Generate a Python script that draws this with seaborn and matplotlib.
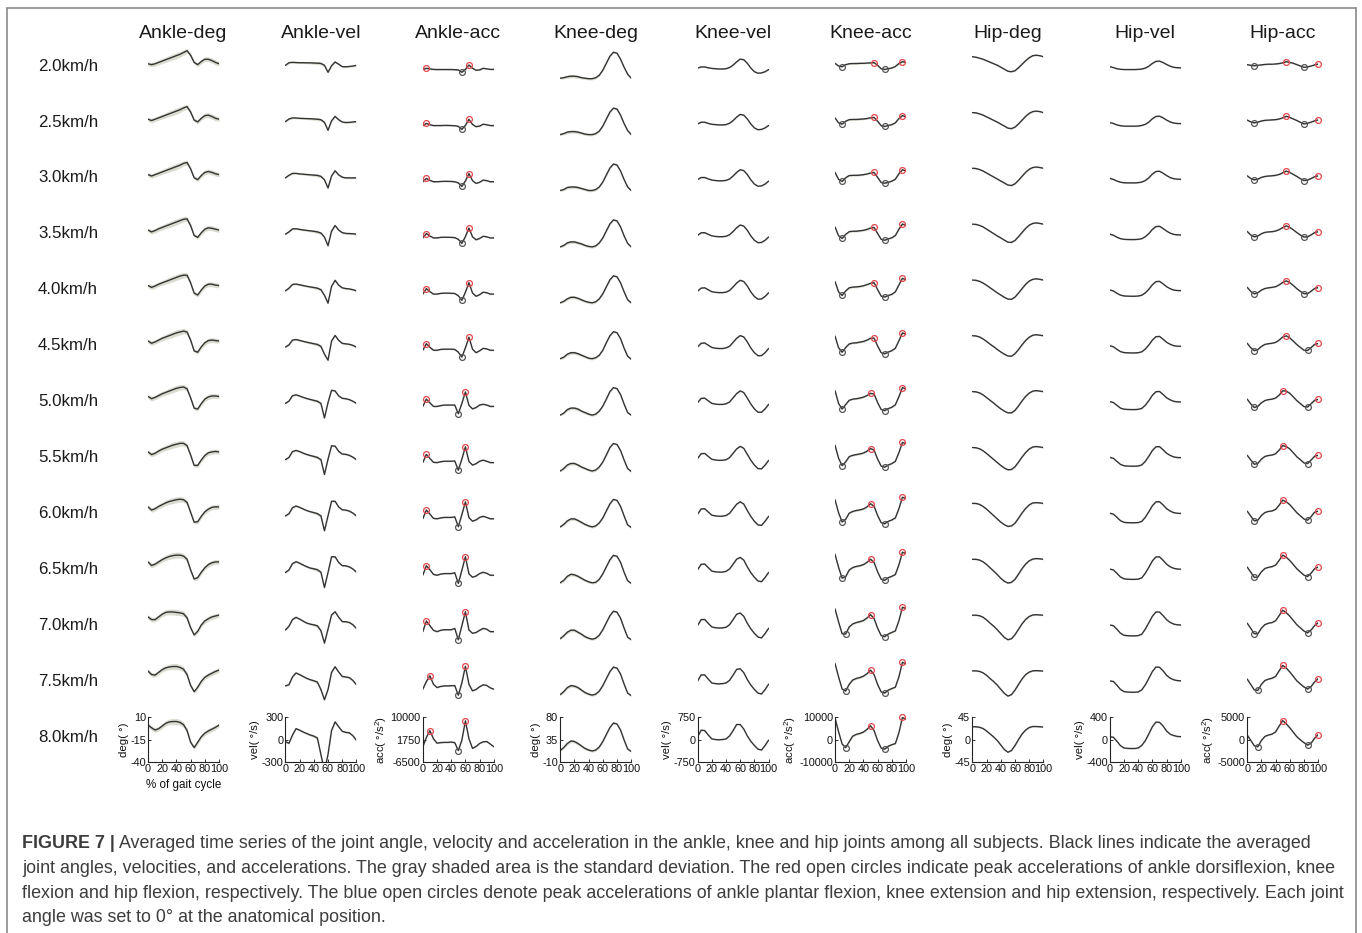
import matplotlib
matplotlib.use("Agg")
import matplotlib.pyplot as plt
from matplotlib.lines import Line2D
import numpy as np
import pandas as pd
import seaborn as sns

# ---------------------------------------------------------------- data
GAIT_PCT = list(range(0, 101, 5))
SPEEDS = ["2.0km/h", "2.5km/h", "3.0km/h", "3.5km/h", "4.0km/h", "4.5km/h", "5.0km/h",
          "5.5km/h", "6.0km/h", "6.5km/h", "7.0km/h", "7.5km/h", "8.0km/h"]
COLUMN_TITLES = ["Ankle-deg", "Ankle-vel", "Ankle-acc", "Knee-deg", "Knee-vel",
                 "Knee-acc", "Hip-deg", "Hip-vel", "Hip-acc"]
Y_LABELS = ["deg( °)", "vel( °/s)", "acc( °/s$^{2}$)"] * 3
Y_LIMITS = [(-40, 10), (-300, 300), (-6500, 10000), (-10, 80), (-750, 750),
            (-10000, 10000), (-45, 45), (-400, 400), (-5000, 5000)]
Y_TICKS = [[-40, -15, 10], [-300, 0, 300], [-6500, 1750, 10000], [-10, 35, 80],
           [-750, 0, 750], [-10000, 0, 10000], [-45, 0, 45], [-400, 0, 400],
           [-5000, 0, 5000]]
X_TICKS = [0, 20, 40, 60, 80, 100]

ANKLE_DEG = [
    [-9.5, -10.5, -9.5, -8.0, -6.5, -5.0, -3.5, -2.0, -0.5, 1.0, 3.0, 5.0, 0.0, -8.0, -10.5, -7.0, -4.5, -4.5, -6.0, -8.0, -9.5],
    [-9.0, -10.5, -9.0, -7.5, -6.0, -4.5, -3.0, -1.5, 0.0, 1.5, 3.5, 5.0, -1.0, -10.0, -12.0, -8.0, -5.0, -4.5, -6.0, -8.0, -9.0],
    [-8.5, -10.0, -8.5, -7.0, -5.5, -4.0, -2.5, -1.0, 0.5, 2.0, 4.0, 5.0, -2.0, -12.0, -14.0, -9.5, -6.0, -5.0, -6.0, -7.5, -8.5],
    [-8.0, -10.0, -8.5, -6.5, -5.0, -3.5, -2.0, -0.5, 1.0, 2.5, 4.0, 4.5, -3.0, -14.0, -16.0, -11.0, -7.0, -5.5, -6.0, -7.0, -8.0],
    [-7.5, -9.5, -8.0, -6.0, -4.5, -3.0, -1.5, 0.0, 1.5, 3.0, 4.0, 4.0, -4.5, -16.0, -18.0, -12.5, -8.0, -6.0, -6.0, -7.0, -7.5],
    [-7.0, -9.5, -8.0, -6.0, -4.0, -2.5, -1.0, 0.5, 2.0, 3.0, 4.0, 3.0, -6.0, -18.0, -19.5, -13.5, -9.0, -6.5, -6.0, -6.5, -7.0],
    [-6.5, -9.0, -7.5, -5.5, -3.5, -2.0, -0.5, 1.0, 2.5, 3.5, 4.0, 2.0, -8.0, -19.5, -20.5, -14.5, -9.5, -7.0, -6.0, -6.0, -6.5],
    [-6.0, -9.0, -7.5, -5.0, -3.0, -1.5, 0.0, 1.5, 2.5, 3.5, 3.5, 1.0, -9.5, -21.0, -21.0, -15.0, -10.0, -7.0, -6.0, -5.5, -6.0],
    [-5.0, -8.5, -7.0, -4.5, -2.5, -0.5, 1.0, 2.0, 3.0, 3.5, 3.0, 0.0, -11.0, -22.0, -21.5, -15.5, -10.5, -7.5, -5.5, -5.0, -5.0],
    [-4.0, -8.0, -6.5, -4.0, -1.5, 0.5, 2.0, 3.0, 3.5, 3.5, 2.5, -1.0, -13.0, -23.0, -21.5, -15.5, -10.5, -7.0, -5.0, -4.0, -4.0],
    [-3.0, -6.0, -6.0, -3.0, 0.0, 2.0, 2.5, 2.5, 2.0, 1.5, 0.5, -4.0, -15.0, -23.0, -19.0, -12.0, -7.5, -5.0, -3.0, -2.0, -1.0],
    [-1.0, -5.0, -5.5, -2.5, 0.5, 2.5, 3.5, 4.0, 4.0, 3.0, 1.0, -5.0, -17.0, -24.0, -19.0, -12.5, -8.0, -5.5, -3.5, -1.5, 0.0],
    [1.0, -2.0, -4.5, -3.0, 0.0, 3.0, 4.5, 5.0, 5.0, 4.0, 1.5, -5.0, -18.0, -24.0, -18.0, -12.0, -8.0, -5.5, -3.5, -1.5, 1.0],
]
ANKLE_VEL = [
    [45, 80, 85, 82, 80, 80, 78, 78, 76, 74, 70, 45, -48, 40, 90, 60, 28, 25, 30, 35, 45],
    [40, 75, 90, 88, 84, 82, 80, 78, 75, 72, 65, 30, -75, 50, 110, 65, 35, 28, 30, 35, 40],
    [35, 70, 95, 95, 88, 84, 80, 76, 72, 68, 55, 10, -100, 60, 130, 75, 45, 35, 35, 35, 35],
    [30, 60, 100, 102, 94, 86, 80, 74, 68, 60, 45, -10, -125, 70, 145, 85, 50, 40, 38, 35, 30],
    [20, 55, 105, 110, 100, 90, 80, 72, 64, 55, 35, -40, -145, 80, 160, 95, 60, 50, 45, 35, 20],
    [15, 45, 108, 116, 104, 92, 80, 70, 60, 50, 25, -80, -160, 95, 170, 105, 65, 58, 52, 38, 15],
    [10, 40, 112, 124, 108, 90, 75, 62, 50, 38, 10, -185, 20, 185, 175, 110, 78, 72, 60, 38, 10],
    [5, 35, 112, 128, 112, 92, 74, 60, 48, 34, 5, -192, 10, 190, 185, 115, 80, 76, 62, 38, 5],
    [0, 30, 110, 132, 114, 92, 72, 56, 44, 30, 0, -198, 0, 195, 195, 120, 82, 78, 64, 38, 0],
    [-10, 25, 110, 135, 115, 90, 68, 50, 40, 28, -5, -210, -10, 200, 200, 125, 82, 80, 66, 38, -5],
    [-30, 20, 110, 138, 115, 88, 62, 48, 38, 25, -40, -205, -20, 170, 213, 140, 82, 80, 70, 40, -10],
    [-30, -15, 90, 142, 120, 95, 70, 52, 38, 20, -80, -215, -80, 150, 225, 155, 95, 88, 80, 42, -15],
    [-30, -50, 60, 145, 125, 100, 80, 60, 45, 20, -200, -420, -200, 120, 235, 170, 110, 95, 90, 50, -10],
]
ANKLE_ACC = [
    [1500, 1900, 1700, 1500, 1450, 1450, 1450, 1450, 1450, 1400, 1300, 450, 1500, 3100, 1900, 1200, 1300, 1900, 1700, 1500, 1500],
    [1400, 2200, 1700, 1400, 1400, 1400, 1450, 1450, 1400, 1350, 1100, 0, 1500, 3700, 1800, 1000, 1200, 1900, 1700, 1400, 1400],
    [1300, 2500, 1800, 1300, 1300, 1400, 1450, 1450, 1400, 1300, 900, -400, 1600, 4300, 1700, 700, 1100, 1900, 1700, 1300, 1300],
    [1200, 2800, 1900, 1200, 1200, 1400, 1450, 1450, 1400, 1300, 700, -800, 1700, 4800, 1600, 500, 1000, 1800, 1600, 1200, 1200],
    [1100, 3100, 2000, 1100, 1100, 1350, 1450, 1450, 1400, 1300, 500, -1200, 1800, 5300, 1500, 300, 900, 1800, 1600, 1100, 1100],
    [1000, 3400, 2100, 1000, 1000, 1300, 1400, 1400, 1400, 1300, 300, -1500, 1900, 5800, 1400, 100, 800, 1700, 1500, 1000, 1000],
    [900, 3600, 2200, 900, 900, 1200, 1400, 1400, 1400, 1400, -1800, 2000, 6200, 1300, 0, 500, 1400, 1700, 1400, 900, 900],
    [800, 3800, 2300, 900, 800, 1100, 1300, 1300, 1300, 1400, -2000, 2100, 6600, 1200, -100, 400, 1300, 1700, 1300, 800, 800],
    [700, 3900, 2400, 850, 700, 1000, 1200, 1200, 1200, 1400, -2200, 2200, 6900, 1100, -200, 300, 1200, 1600, 1200, 700, 700],
    [500, 4000, 2500, 800, 500, 900, 1100, 1100, 1100, 1400, -2500, 2300, 7300, 1000, -250, 200, 1100, 1600, 1200, 500, 500],
    [300, 4200, 2500, 800, 300, 800, 1000, 1000, 1000, 1500, -2700, 2500, 7600, 900, -300, 0, 800, 1500, 1200, 300, 300],
    [-300, 2500, 4600, 1500, 300, 700, 900, 900, 1000, 1000, -2500, 2000, 8100, 1500, -900, -400, 600, 1300, 1100, 200, -300],
    [-900, 2500, 5000, 2000, 400, 600, 700, 700, 800, 600, -2300, 1500, 8600, 2000, -1500, -800, 300, 900, 1000, 100, -900],
]
KNEE_DEG = [
    [16, 17, 19, 20, 20, 19, 17, 16, 15, 15, 17, 22, 32, 46, 60, 68, 66, 54, 38, 24, 16],
    [15, 17, 20, 21, 21, 20, 18, 16, 15, 15, 17, 22, 32, 46, 60, 68, 66, 54, 37, 23, 15],
    [15, 17, 21, 22, 22, 21, 19, 17, 15, 15, 17, 22, 32, 46, 60, 68, 66, 54, 37, 22, 15],
    [14, 17, 22, 24, 24, 22, 20, 17, 15, 14, 16, 22, 32, 46, 60, 68, 66, 54, 36, 21, 14],
    [14, 17, 22, 25, 25, 23, 20, 17, 15, 14, 16, 22, 32, 46, 60, 68, 66, 54, 36, 20, 14],
    [14, 17, 23, 26, 26, 24, 21, 18, 15, 14, 16, 21, 31, 46, 60, 68, 66, 54, 35, 19, 13],
    [13, 17, 24, 27, 27, 25, 21, 18, 15, 13, 15, 21, 31, 45, 60, 68, 66, 54, 35, 18, 13],
    [13, 18, 25, 28, 28, 25, 21, 18, 15, 13, 15, 21, 31, 45, 60, 68, 66, 54, 35, 18, 12],
    [13, 18, 25, 29, 29, 26, 22, 18, 15, 13, 15, 21, 31, 45, 59, 68, 66, 54, 35, 17, 12],
    [13, 18, 26, 30, 29, 26, 22, 18, 15, 13, 14, 20, 31, 45, 59, 68, 66, 54, 34, 17, 12],
    [13, 19, 26, 30, 30, 26, 22, 17, 14, 12, 14, 20, 31, 45, 59, 68, 66, 54, 34, 16, 11],
    [13, 19, 27, 31, 30, 27, 22, 17, 14, 12, 14, 20, 31, 45, 59, 68, 66, 54, 34, 16, 11],
    [13, 19, 27, 32, 31, 27, 22, 17, 14, 12, 14, 20, 31, 45, 59, 68, 66, 54, 34, 16, 11],
]
KNEE_VEL = [
    [20, 60, 60, 30, 10, 0, -10, -10, 0, 40, 120, 230, 320, 300, 180, 20, -100, -150, -140, -100, -30],
    [25, 80, 80, 40, 10, 0, -10, -10, 0, 45, 135, 250, 340, 315, 190, 20, -110, -170, -160, -110, -30],
    [30, 100, 100, 55, 15, 0, -10, -10, 5, 50, 150, 270, 360, 330, 200, 20, -120, -190, -180, -120, -20],
    [35, 120, 125, 70, 20, 0, -10, -10, 5, 55, 165, 290, 380, 345, 205, 15, -130, -210, -200, -130, -20],
    [40, 140, 150, 85, 20, 0, -10, -10, 5, 60, 180, 310, 400, 360, 210, 10, -140, -230, -220, -140, -15],
    [45, 165, 175, 100, 25, 0, -10, -10, 10, 65, 195, 330, 420, 375, 210, 5, -150, -250, -245, -150, -10],
    [50, 190, 200, 110, 25, 0, -10, -10, 10, 70, 210, 350, 440, 385, 200, 0, -160, -270, -270, -160, -10],
    [55, 210, 220, 120, 25, 0, -10, -10, 10, 80, 225, 370, 455, 390, 190, -10, -170, -285, -295, -170, -15],
    [60, 230, 240, 130, 25, 0, -10, -10, 15, 85, 240, 390, 470, 395, 180, -20, -180, -300, -315, -180, -15],
    [70, 250, 260, 140, 25, 0, -10, -10, 15, 95, 255, 420, 480, 390, 165, -30, -185, -305, -330, -190, -20],
    [75, 270, 275, 145, 25, 0, -10, -5, 15, 100, 270, 450, 490, 380, 150, -40, -190, -310, -340, -195, -20],
    [85, 290, 290, 150, 20, 0, -10, 0, 20, 110, 285, 475, 495, 365, 135, -50, -195, -315, -345, -200, -20],
    [90, 310, 300, 150, 20, 0, -10, 0, 20, 120, 300, 500, 500, 350, 120, -60, -200, -320, -350, -200, -20],
]
KNEE_ACC = [
    [2400, 1200, 900, 1800, 2200, 2300, 2300, 2400, 2400, 2500, 2600, 2700, 1500, 0, -300, 0, 300, 1000, 2300, 3100, 2800],
    [3000, 800, 200, 1500, 2200, 2300, 2300, 2400, 2500, 2700, 3000, 3200, 1500, -500, -800, -400, 0, 800, 2700, 4000, 3500],
    [3600, 500, -400, 1200, 2200, 2300, 2300, 2400, 2600, 2900, 3300, 3600, 1400, -900, -1200, -800, -300, 600, 3000, 4800, 4200],
    [4200, 300, -900, 900, 2100, 2300, 2300, 2500, 2700, 3100, 3700, 4000, 1300, -1300, -1700, -1100, -600, 400, 3200, 5500, 4900],
    [4800, 200, -1400, 600, 2000, 2300, 2400, 2600, 2900, 3400, 4000, 4300, 1200, -1700, -2100, -1400, -900, 200, 3300, 6200, 5600],
    [5400, 200, -1800, 300, 1900, 2300, 2400, 2700, 3000, 3600, 4400, 4500, 1000, -2000, -2500, -1700, -1100, 0, 3300, 6800, 6200],
    [6000, 300, -2200, -200, 1700, 2200, 2400, 2700, 3100, 3800, 4800, 4500, 700, -2400, -2900, -2000, -1400, -300, 3300, 7300, 6800],
    [6600, 800, -2500, -800, 1500, 2100, 2400, 2700, 3100, 3900, 5100, 4400, 400, -2700, -3200, -2200, -1600, -600, 3300, 7800, 7300],
    [7200, 1400, -2700, -1500, 1200, 2000, 2400, 2700, 3100, 4000, 5400, 4300, 200, -3000, -3500, -2400, -1800, -900, 3200, 8300, 7800],
    [7800, 2000, -2800, -2200, 800, 1900, 2400, 2700, 3200, 4200, 5600, 4200, 0, -3300, -3800, -2600, -2000, -1200, 3100, 8700, 8200],
    [8400, 2600, -2700, -2800, 300, 1700, 2300, 2700, 3200, 4300, 5800, 4100, -200, -3500, -4000, -2800, -2100, -1400, 3100, 9100, 8500],
    [9000, 3000, -2400, -3300, -300, 1600, 2300, 2700, 3300, 4400, 6000, 4000, -400, -3700, -4200, -2900, -2200, -1600, 3000, 9500, 8800],
    [9500, 3500, -2000, -3600, -1000, 1500, 2300, 2700, 3300, 4500, 6100, 4000, -500, -3800, -4300, -3000, -2300, -1800, 3000, 9800, 9000],
]
HIP_DEG = [
    [24, 23, 21, 19, 16, 13, 10, 7, 3, -1, -5, -6, -4, 2, 9, 16, 22, 26, 27, 26, 24],
    [24, 23.5, 21.5, 19, 15.5, 12, 8.5, 5, 1, -3, -7, -8, -5, 1.5, 9, 16.5, 22.5, 26, 27, 26, 24],
    [24.5, 24, 22, 19, 15, 11, 7, 3, -1, -5, -9, -10, -6.5, 0.5, 8.5, 16.5, 22.5, 26, 27, 26, 24.5],
    [24.5, 24, 22, 19, 14.5, 10, 5.5, 1, -3, -7.5, -11.5, -12, -8, -0.5, 8, 16, 22.5, 26, 27, 26, 24.5],
    [24.5, 24, 22, 18.5, 14, 9, 4, -1, -5.5, -10, -13.5, -14, -9.5, -1.5, 7.5, 16, 22.5, 26, 27, 26, 24.5],
    [25, 24.5, 22.5, 18.5, 13.5, 8, 3, -2.5, -7.5, -12, -15.5, -16, -11, -2.5, 7, 15.5, 22, 26, 27, 26, 25],
    [25, 24.5, 22.5, 18.5, 13, 7.5, 2, -4, -9.5, -14, -17.5, -17.5, -12.5, -3.5, 6.5, 15.5, 22, 26, 27, 26, 25],
    [25, 24.5, 22.5, 18.5, 13, 7, 1, -5, -11, -16, -19.5, -19, -13.5, -4, 6, 15, 22, 26, 27, 26, 25],
    [25, 25, 23, 19, 13.5, 7, 0.5, -6, -12.5, -17.5, -21, -20, -14.5, -4.5, 6, 15, 22, 26, 26.5, 26, 25],
    [25, 25, 23.5, 20, 14.5, 8, 1.5, -5.5, -13, -19, -22.5, -21, -15, -4.5, 6.5, 15.5, 22, 25.5, 26.5, 26, 25],
    [25, 25, 24, 21, 15.5, 9, 3, -4, -12, -19.5, -24, -22, -14, -3, 8, 16.5, 22.5, 25.5, 26, 25.5, 25],
    [25.5, 25.5, 24.5, 21.5, 16.5, 10, 4, -3, -11.5, -19.5, -25, -22, -13, -1.5, 9.5, 18, 23, 25.5, 26, 25.5, 25],
    [25.5, 25.5, 24.5, 22, 17, 11, 5, -2, -11, -20, -25.5, -22, -12, 0, 11, 19, 24, 26, 26, 25.5, 25],
]
HIP_VEL = [
    [35, 20, 0, -10, -15, -15, -15, -15, -12, -5, 10, 45, 95, 130, 135, 110, 75, 45, 25, 18, 15],
    [35, 20, -5, -20, -27, -28, -28, -28, -25, -15, 5, 45, 105, 145, 150, 120, 80, 48, 28, 20, 18],
    [38, 20, -10, -30, -40, -42, -42, -42, -38, -28, 0, 48, 115, 160, 165, 130, 88, 52, 32, 24, 22],
    [40, 22, -15, -40, -52, -55, -56, -56, -52, -40, -5, 50, 125, 175, 180, 140, 95, 58, 36, 28, 26],
    [42, 24, -18, -50, -65, -68, -70, -70, -66, -52, -10, 55, 135, 190, 195, 150, 100, 64, 40, 32, 30],
    [44, 26, -20, -60, -78, -82, -84, -84, -80, -64, -15, 58, 145, 205, 210, 160, 105, 70, 45, 36, 34],
    [45, 28, -22, -70, -90, -95, -97, -97, -93, -76, -20, 62, 158, 220, 225, 172, 112, 76, 50, 40, 38],
    [46, 30, -24, -78, -102, -108, -110, -110, -106, -88, -24, 68, 170, 235, 238, 182, 120, 82, 55, 44, 42],
    [47, 32, -25, -85, -114, -120, -122, -122, -118, -98, -25, 75, 182, 250, 252, 195, 128, 86, 58, 47, 44],
    [48, 34, -26, -92, -124, -132, -134, -134, -130, -108, -25, 82, 195, 265, 265, 205, 135, 90, 62, 50, 46],
    [48, 36, -27, -98, -134, -142, -145, -145, -140, -116, -24, 88, 205, 280, 278, 215, 142, 94, 65, 52, 48],
    [49, 38, -28, -104, -142, -150, -153, -153, -148, -112, -22, 94, 216, 295, 290, 228, 147, 97, 68, 54, 49],
    [50, 40, -30, -110, -150, -158, -160, -160, -150, -105, -20, 100, 228, 310, 305, 240, 150, 95, 70, 55, 50],
]
HIP_ACC = [
    [900, 750, 670, 750, 850, 950, 1000, 1000, 1050, 1150, 1300, 1560, 1400, 1200, 900, 600, 310, 400, 600, 850, 1040],
    [1000, 600, 400, 550, 800, 950, 1000, 1050, 1100, 1250, 1500, 1850, 1600, 1250, 900, 500, 150, 300, 550, 850, 1050],
    [1050, 450, 150, 300, 700, 900, 1000, 1050, 1150, 1350, 1700, 2100, 1800, 1350, 900, 400, 0, 100, 450, 850, 1050],
    [1100, 300, -100, 100, 600, 900, 1000, 1050, 1200, 1500, 1950, 2350, 2000, 1450, 850, 300, -150, -100, 350, 850, 1050],
    [1100, 200, -350, -100, 500, 850, 1000, 1100, 1250, 1650, 2200, 2550, 2150, 1500, 800, 200, -300, -300, 250, 850, 1050],
    [1100, 100, -550, -300, 400, 850, 1000, 1100, 1300, 1800, 2500, 2750, 2300, 1550, 800, 150, -450, -500, 150, 850, 1050],
    [1100, 50, -750, -500, 300, 800, 1000, 1100, 1350, 2000, 2950, 2900, 2400, 1600, 750, 100, -550, -650, 100, 850, 1050],
    [1050, 0, -950, -750, 200, 800, 1000, 1100, 1400, 2200, 3200, 3000, 2450, 1600, 700, 50, -650, -800, 0, 850, 1050],
    [1050, -50, -1100, -950, 100, 750, 1000, 1100, 1450, 2400, 3500, 3150, 2500, 1600, 700, 0, -700, -950, -150, 850, 1050],
    [1050, -100, -1250, -1150, 0, 750, 1000, 1150, 1500, 2550, 3700, 3250, 2500, 1600, 650, -50, -750, -1050, -300, 700, 1050],
    [1000, -150, -1350, -1350, -100, 700, 1000, 1150, 1550, 2700, 3900, 3350, 2550, 1600, 650, -50, -750, -1150, -500, 500, 1100],
    [1000, -200, -1400, -1500, -150, 700, 1000, 1200, 1600, 2850, 4050, 3450, 2600, 1600, 600, -100, -750, -1200, -650, 400, 1100],
    [1000, -200, -1400, -1600, -200, 700, 1000, 1200, 1700, 3000, 4200, 3500, 2600, 1600, 600, -100, -700, -1250, -800, 300, 1100],
]

# standard deviation across subjects (one profile per variable)
ANKLE_DEG_SD = [2.5, 2.5, 2.5, 2.6, 2.8, 3.0, 3.2, 3.4, 3.4, 3.2, 3.0, 2.6, 2.2, 2.0, 2.2, 2.4, 2.6, 2.8, 2.8, 2.7, 2.5]
ANKLE_VEL_SD = [12, 12, 12, 12, 12, 12, 12, 14, 18, 22, 18, 14, 12, 12, 12, 12, 12, 12, 12, 12, 12]
ANKLE_ACC_SD = [250, 300, 300, 250, 200, 200, 200, 200, 200, 250, 300, 300, 300, 250, 200, 200, 200, 200, 200, 200, 250]
KNEE_DEG_SD = [2.0, 2.5, 3.0, 3.2, 3.2, 3.0, 2.8, 2.6, 2.5, 2.5, 2.4, 2.2, 2.0, 1.8, 1.8, 1.8, 1.8, 1.8, 1.8, 1.8, 2.0]
KNEE_VEL_SD = [15, 18, 20, 18, 15, 15, 15, 15, 15, 15, 15, 15, 15, 15, 15, 15, 15, 15, 15, 15, 15]
KNEE_ACC_SD = [300, 300, 300, 300, 300, 350, 400, 400, 350, 300, 300, 300, 300, 300, 300, 300, 300, 300, 300, 300, 300]
HIP_DEG_SD = [1.2] * 21
HIP_VEL_SD = [8] * 21
HIP_ACC_SD = [120] * 21

COLUMNS = [ANKLE_DEG, ANKLE_VEL, ANKLE_ACC, KNEE_DEG, KNEE_VEL, KNEE_ACC, HIP_DEG, HIP_VEL, HIP_ACC]
COLUMN_SD = [ANKLE_DEG_SD, ANKLE_VEL_SD, ANKLE_ACC_SD, KNEE_DEG_SD, KNEE_VEL_SD,
             KNEE_ACC_SD, HIP_DEG_SD, HIP_VEL_SD, HIP_ACC_SD]

# peak-acceleration search windows (% gait cycle): "flex" = maximum, "ext" = minimum
PEAK_WINDOWS = {
    2: [("flex", 0, 25), ("ext", 40, 60), ("flex", 55, 75)],
    5: [("ext", 0, 30), ("flex", 35, 65), ("ext", 60, 85), ("flex", 85, 100)],
    8: [("ext", 0, 30), ("flex", 35, 65), ("ext", 70, 95), ("flex", 90, 100)],
}

# ---------------------------------------------------------------- style
sns.set_theme(style="white")
plt.rcParams["font.family"] = ["Liberation Sans", "DejaVu Sans"]
plt.rcParams["mathtext.fontset"] = "custom"
plt.rcParams["mathtext.rm"] = "Liberation Sans"
plt.rcParams["axes.unicode_minus"] = False

LINE_COLOR = "#333333"
BAND_COLOR = "#d6dacb"
FLEX_COLOR = "#e5454d"
EXT_COLOR = "#555555"
TEXT_COLOR = "#1a1a1a"

W, H = 1362, 933
fig = plt.figure(figsize=(W / 100, H / 100), dpi=100)
fig.patch.set_facecolor("white")


def rect(left, top, width, height):
    return [left / W, 1 - (top + height) / H, width / W, height / H]


COL_LEFT0, COL_STEP, AX_W = 148, 137.4, 71
ROW_TOP_LAST, ROW_STEP, AX_H = 717, 55.9, 45
n_rows = len(SPEEDS)
x = np.array(GAIT_PCT, dtype=float)

for r, speed in enumerate(SPEEDS):
    top = ROW_TOP_LAST - (n_rows - 1 - r) * ROW_STEP
    fig.text(38 / W, 1 - (top + AX_H / 2 - 2.5) / H, speed, fontsize=12.2,
             color=TEXT_COLOR, ha="left", va="center")
    for c, series in enumerate(COLUMNS):
        left = COL_LEFT0 + c * COL_STEP
        ax = fig.add_axes(rect(left, top, AX_W, AX_H))
        y = np.array(series[r], dtype=float)
        sd = np.array(COLUMN_SD[c], dtype=float)
        ax.fill_between(x, y - sd, y + sd, color=BAND_COLOR, linewidth=0, alpha=0.9)
        frame = pd.DataFrame({"pct": x, "value": y})
        sns.lineplot(data=frame, x="pct", y="value", ax=ax, color=LINE_COLOR,
                     linewidth=1.0, estimator=None)
        if c in PEAK_WINDOWS:
            for kind, lo, hi in PEAK_WINDOWS[c]:
                idx = [i for i, p in enumerate(GAIT_PCT) if lo <= p <= hi]
                vals = y[idx]
                k = idx[int(np.argmax(vals))] if kind == "flex" else idx[int(np.argmin(vals))]
                ax.plot(x[k], y[k], "o", ms=4.2, mfc="none", mew=0.9,
                        mec=FLEX_COLOR if kind == "flex" else EXT_COLOR, zorder=5,
                        clip_on=False)
        ax.set_xlim(0, 100)
        ax.set_ylim(*Y_LIMITS[c])
        ax.set_xlabel("")
        ax.set_ylabel("")
        if r == n_rows - 1:
            for side in ("top", "right"):
                ax.spines[side].set_visible(False)
            for side in ("left", "bottom"):
                ax.spines[side].set_color("#222222")
                ax.spines[side].set_linewidth(0.8)
            ax.set_xticks(X_TICKS)
            ax.set_yticks(Y_TICKS[c])
            ax.tick_params(axis="both", direction="in", length=2, width=0.6,
                           labelsize=7.8, pad=1.5, colors="#111111",
                           left=True, bottom=True)
            ax.set_ylabel(Y_LABELS[c], fontsize=8.2, labelpad=1, color="#111111")
            if c == 0:
                ax.set_xlabel("% of gait cycle", fontsize=8.4, labelpad=3.5, color="#111111")
        else:
            ax.axis("off")
        if r == 0:
            fig.text((left + AX_W / 2) / W, 1 - 33 / H, COLUMN_TITLES[c],
                     fontsize=14, color=TEXT_COLOR, ha="center", va="center")

# outer frame (open at the bottom)
frame_kw = dict(color="#8a8a8a", linewidth=1.2, transform=fig.transFigure)
fig.add_artist(Line2D([7 / W, 1356 / W], [1 - 8 / H, 1 - 8 / H], **frame_kw))
fig.add_artist(Line2D([7 / W, 7 / W], [0, 1 - 8 / H], **frame_kw))
fig.add_artist(Line2D([1356 / W, 1356 / W], [0, 1 - 8 / H], **frame_kw))

# caption block: pick the sans family whose line lengths best fit the text block
CAPTION_HEAD = "FIGURE 7 |"
CAPTION_LINES = [
    " Averaged time series of the joint angle, velocity and acceleration in the ankle, knee and hip joints among all subjects. Black lines indicate the averaged",
    "joint angles, velocities, and accelerations. The gray shaded area is the standard deviation. The red open circles indicate peak accelerations of ankle dorsiflexion, knee",
    "flexion and hip flexion, respectively. The blue open circles denote peak accelerations of ankle plantar flexion, knee extension and hip extension, respectively. Each joint",
    "angle was set to 0° at the anatomical position.",
]
CAPTION_LINE_ENDS = [1315, 1333, 1341]
CAP_CANDIDATES = ["Liberation Sans", "Inter", "Open Sans", "Noto Sans", "Roboto", "Lato"]
CAP_COLOR = "#3d3d3d"
cap_x, cap_y0, cap_dy = 22, 844, 24.6
renderer = fig.canvas.get_renderer()


def line_widths(family, size):
    fam = [family, "DejaVu Sans"]
    widths = []
    for i, line in enumerate(CAPTION_LINES[:3]):
        t = fig.text(0, 0, line, fontsize=size, fontweight="light", family=fam)
        w = t.get_window_extent(renderer).width
        t.remove()
        if i == 0:
            h = fig.text(0, 0, CAPTION_HEAD, fontsize=size, fontweight="bold", family=fam)
            w += h.get_window_extent(renderer).width
            h.remove()
        widths.append(w)
    return np.array(widths)


targets = np.array(CAPTION_LINE_ENDS, dtype=float) - cap_x
best = None
for fam in CAP_CANDIDATES:
    w = line_widths(fam, 10.0)
    s = float(np.dot(w, targets) / np.dot(w, w))
    err = float(np.abs(w * s - targets).max())
    if best is None or err < best[0]:
        best = (err, fam, 10.0 * s)
_, cap_family, cap_size = best
cap_fam = [cap_family, "DejaVu Sans"]

head = fig.text(cap_x / W, 1 - cap_y0 / H, CAPTION_HEAD, fontsize=cap_size,
                fontweight="bold", family=cap_fam, color=CAP_COLOR,
                ha="left", va="center")
head_w = head.get_window_extent(renderer).width
for i, line in enumerate(CAPTION_LINES):
    xpos = cap_x + (head_w if i == 0 else 0)
    fig.text(xpos / W, 1 - (cap_y0 + i * cap_dy) / H, line, fontsize=cap_size,
             fontweight="light", family=cap_fam, color=CAP_COLOR,
             ha="left", va="center")

fig.savefig("out.png", dpi=100, facecolor="white")
